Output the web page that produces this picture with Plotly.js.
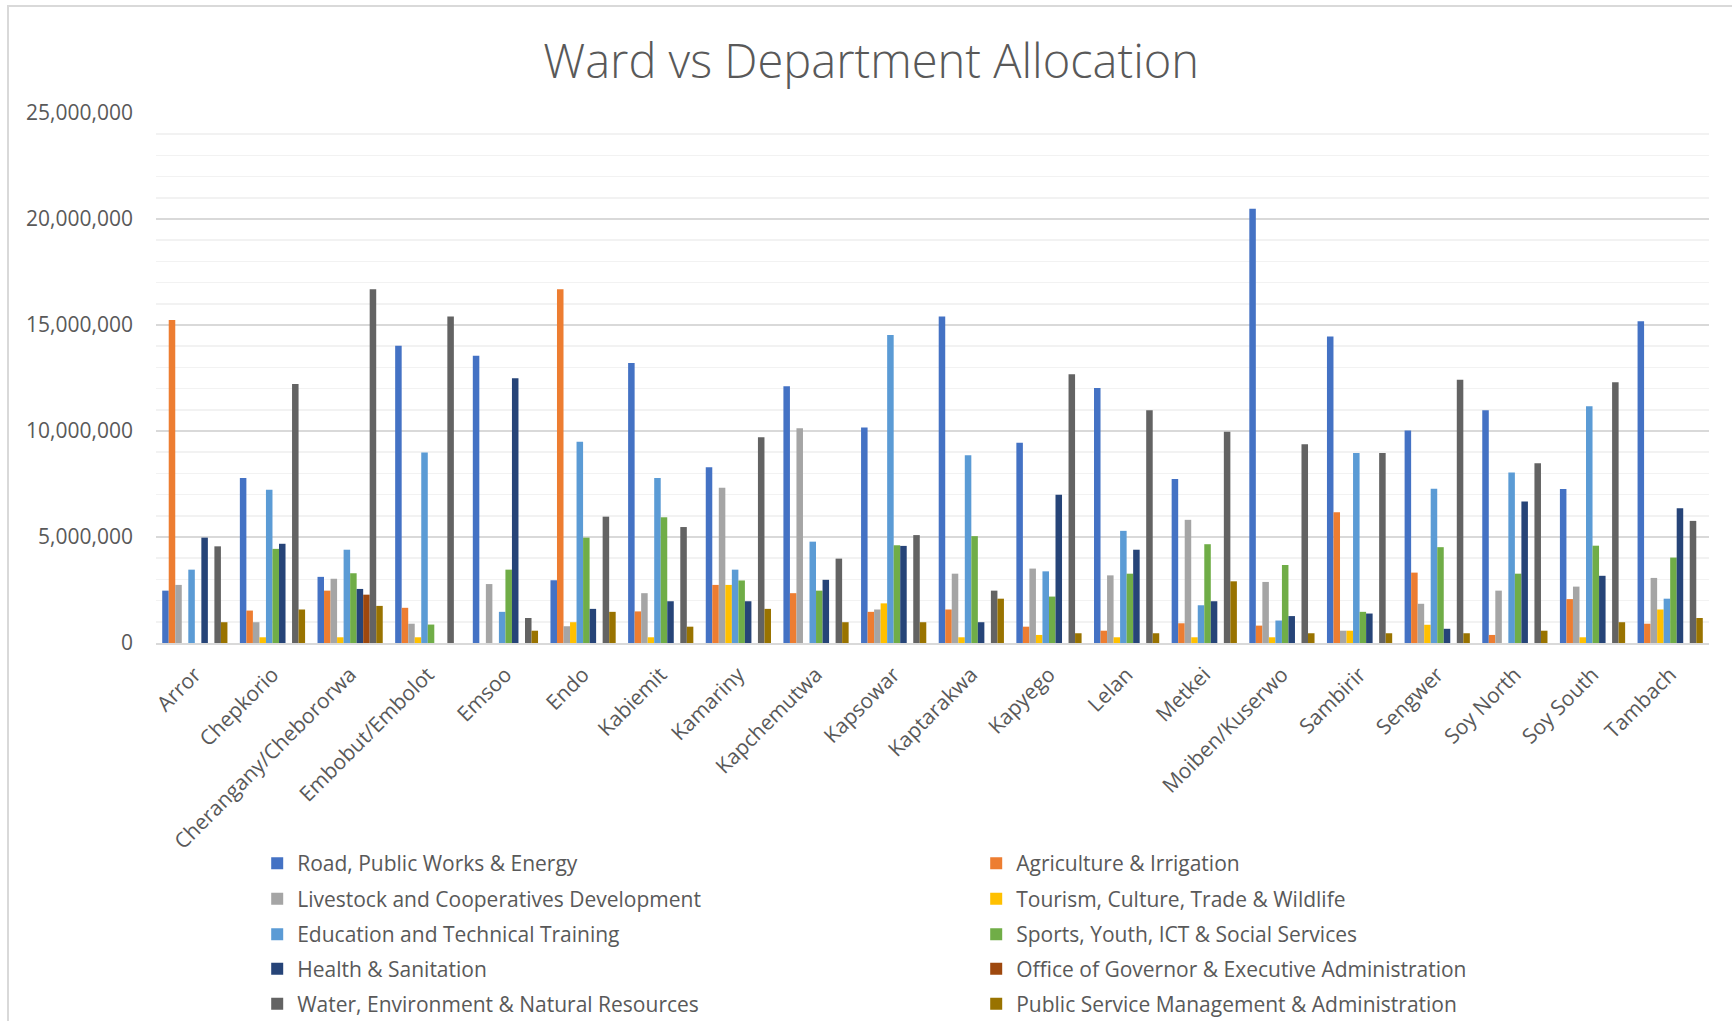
<!DOCTYPE html>
<html>
<head>
<meta charset="utf-8">
<script src="https://cdn.plot.ly/plotly-3.0.1.min.js"></script>
<style>
html,body{margin:0;padding:0;background:#fff;overflow:hidden;}
#frame{position:absolute;left:7px;top:5px;width:1740px;height:1030px;border-left:2px solid #d9d9d9;border-top:2px solid #d9d9d9;pointer-events:none;z-index:5;}
#chart{position:absolute;left:0;top:0;width:1732px;height:1021px;}
</style>
</head>
<body>
<div id="chart"></div>
<div id="frame"></div>
<script>
const wards = ["Arror","Chepkorio","Cherangany/Chebororwa","Embobut/Embolot","Emsoo","Endo","Kabiemit","Kamariny","Kapchemutwa","Kapsowar","Kaptarakwa","Kapyego","Lelan","Metkei","Moiben/Kuserwo","Sambirir","Sengwer","Soy North","Soy South","Tambach"];

const roadPublicWorksEnergy      = [2470000,7780000,3120000,14020000,13550000,2960000,13210000,8290000,12110000,10160000,15400000,9440000,12030000,7730000,20480000,14460000,10020000,10980000,7270000,15180000];
const agricultureIrrigation      = [15230000,1530000,2470000,1660000,0,16690000,1490000,2740000,2350000,1470000,1580000,770000,580000,930000,820000,6170000,3320000,380000,2070000,910000];
const livestockCooperatives      = [2740000,980000,3030000,910000,2780000,790000,2350000,7320000,10130000,1580000,3270000,3510000,3190000,5810000,2880000,580000,1850000,2470000,2660000,3070000];
const tourismCultureTrade        = [0,270000,270000,270000,0,980000,270000,2740000,0,1870000,270000,380000,270000,270000,270000,580000,860000,0,270000,1580000];
const educationTechnical         = [3460000,7230000,4400000,8980000,1470000,9490000,7780000,3460000,4780000,14530000,8860000,3380000,5290000,1780000,1060000,8960000,7280000,8040000,11170000,2090000];
const sportsYouthICT             = [0,4440000,3290000,870000,3460000,4970000,5930000,2950000,2470000,4610000,5040000,2190000,3270000,4660000,3680000,1470000,4520000,3270000,4590000,4030000];
const healthSanitation           = [4970000,4680000,2550000,0,12490000,1610000,1970000,1970000,2980000,4580000,980000,6990000,4400000,1970000,1270000,1390000,670000,6680000,3170000,6360000];
const officeGovernor             = [0,0,2280000,0,0,0,0,0,0,0,0,0,0,0,0,0,0,0,0,0];
const waterEnvironment           = [4560000,12220000,16690000,15400000,1180000,5960000,5470000,9700000,3980000,5090000,2470000,12680000,10980000,9970000,9370000,8960000,12420000,8480000,12300000,5760000];
const publicServiceManagement    = [980000,1580000,1750000,0,580000,1470000,770000,1610000,980000,980000,2090000,460000,460000,2910000,460000,460000,460000,580000,980000,1180000];

const seriesNames = ["Road, Public Works & Energy","Agriculture & Irrigation","Livestock and Cooperatives Development","Tourism, Culture, Trade & Wildlife","Education and Technical Training","Sports, Youth, ICT & Social Services","Health & Sanitation","Office of Governor & Executive Administration","Water, Environment & Natural Resources","Public Service Management & Administration"];
const seriesValues = [roadPublicWorksEnergy,agricultureIrrigation,livestockCooperatives,tourismCultureTrade,educationTechnical,sportsYouthICT,healthSanitation,officeGovernor,waterEnvironment,publicServiceManagement];
const seriesColors = ["#4472C4","#ED7D31","#A5A5A5","#FFC000","#5B9BD5","#70AD47","#264478","#9E480E","#636363","#997300"];

const FONT = "'Open Sans', 'Liberation Sans', sans-serif";
const legendIds = ['legend','legend2','legend3','legend4','legend5'];
const traces = seriesNames.map((n,i)=>({
  type:'bar', name:n, x:wards, y:seriesValues[i],
  marker:{color:seriesColors[i], line:{width:0}},
  legend: legendIds[Math.floor(i/2)],
  hoverinfo:'x+y+name'
}));

const rowTops = [843, 878.5, 914, 948.5, 983.5];
const layout = {
  width:1732, height:1021,
  paper_bgcolor:'#ffffff', plot_bgcolor:'#ffffff',
  margin:{l:156, r:23, t:113, b:378},
  font:{family:FONT, color:'#595959'},
  title:{text:'Ward vs Department Allocation', font:{family:FONT, size:47, color:'#595959', weight:300},
         xref:'container', x:0.503, xanchor:'center', yref:'container', y:0.94, yanchor:'middle'},
  barmode:'group', bargap:0.16, bargroupgap:0,
  xaxis:{type:'category', tickangle:-45, tickfont:{size:21, color:'#595959'},
         showline:true, linecolor:'#d9d9d9', linewidth:2, ticks:'', ticklabelstandoff:9, showgrid:false},
  yaxis:{range:[0,25000000], dtick:5000000, tickformat:',d', tickfont:{size:21, color:'#595959'},
         showgrid:true, gridcolor:'#d9d9d9', gridwidth:1.5, zeroline:false, ticks:'', ticklabelstandoff:22,
         minor:{dtick:1000000, showgrid:true, gridcolor:'#f2f2f2', gridwidth:1.5}},
  showlegend:true
};
legendIds.forEach((id,k)=>{
  layout[id] = {orientation:'h', xref:'container', yref:'container', x:0.1485, y:1 - rowTops[k]/1021,
    xanchor:'left', yanchor:'top', entrywidth:674, font:{size:21, color:'#595959'}, itemwidth:30,
    traceorder:'normal', bgcolor:'rgba(0,0,0,0)'};
});

Plotly.newPlot('chart', traces, layout, {displayModeBar:false, staticPlot:true});
</script>
</body>
</html>
